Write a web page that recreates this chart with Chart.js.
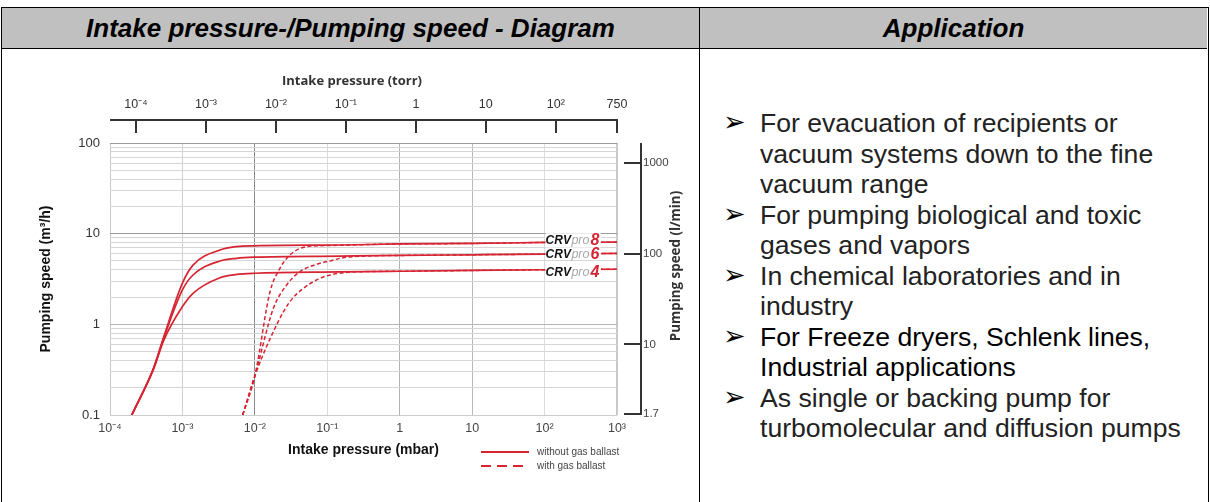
<!DOCTYPE html>
<html><head><meta charset="utf-8">
<script src="https://cdn.jsdelivr.net/npm/chart.js@4.4.1/dist/chart.umd.min.js"></script>
<style>
html,body{margin:0;padding:0;background:#fff;}
body{width:1210px;height:502px;position:relative;overflow:hidden;font-family:"Liberation Sans",Arial,sans-serif;}
.frame{position:absolute;left:1px;top:7px;width:1206px;height:600px;border:1px solid #000;}
.hdr{position:absolute;top:8px;height:40px;background:#c0c0c0;border-bottom:1px solid #000;font-weight:bold;font-style:italic;font-size:26px;line-height:40px;text-align:center;color:#000;}
.vdiv{position:absolute;left:699px;top:8px;width:1px;height:500px;background:#000;}
#chartBox{position:absolute;left:4px;top:52px;width:694px;height:446px;}
.app{position:absolute;left:760px;top:108px;font-size:26.6px;line-height:30.5px;color:#222;}
.it{position:relative;white-space:nowrap;}
.b{position:absolute;left:-37px;top:-1px;font-family:"DejaVu Sans";font-size:27px;line-height:30.5px;color:#000;}
</style>
</head>
<body>
<div class="frame"></div>
<div class="hdr" style="left:2px;width:697px;">Intake pressure-/Pumping speed - Diagram</div>
<div class="hdr" style="left:700px;width:507px;">Application</div>
<div class="vdiv"></div>
<div id="chartBox"><canvas id="c" width="694" height="446"></canvas></div>
<div class="app">
 <div class="it"><span class="b">➢</span>For evacuation of recipients or<br>vacuum systems down to the fine<br>vacuum range</div>
 <div class="it"><span class="b">➢</span>For pumping biological and toxic<br>gases and vapors</div>
 <div class="it"><span class="b">➢</span>In chemical laboratories and in<br>industry</div>
 <div class="it" style="color:#000"><span class="b">➢</span>For Freeze dryers, Schlenk lines,<br>Industrial applications</div>
 <div class="it"><span class="b">➢</span>As single or backing pump for<br>turbomolecular and diffusion pumps</div>
</div>
<script>
// ---- axis ticks / labels ----
const pressureTicks = [1e-4, 1e-3, 1e-2, 1e-1, 1, 10, 100, 1000];
const pressureLabels = ['10⁻⁴', '10⁻³', '10⁻²', '10⁻¹', '1', '10', '10²', '10³'];
const torrTicks = [1e-4, 1e-3, 1e-2, 1e-1, 1, 10, 100, 750];
const torrLabels = ['10⁻⁴', '10⁻³', '10⁻²', '10⁻¹', '1', '10', '10²', '750'];
const speedDecades = [0.1, 1, 10, 100];
const speedLabels = ['0.1', '1', '10', '100'];
const lminTicks = [1.7, 10, 100, 1000];
const lminLabels = ['1.7', '10', '100', '1000'];
const models = ['8', '6', '4'];

// ---- without gas ballast (solid) : pressure mbar / speed m3/h ----
const pSolid = [2.0e-4, 4.0e-4, 5.5e-4, 1e-3, 1.4e-3, 3.3e-3, 5.6e-3, 1e-2, 0.15, 1, 10, 100, 1000];
const sSolid8 = [0.1, 0.33, 0.72, 2.85, 4.5, 6.6, 7.2, 7.35, 7.5, 7.7, 7.8, 8.0, 8.05];
const sSolid6 = [0.1, 0.33, 0.70, 2.4, 3.5, 5.0, 5.35, 5.5, 5.65, 5.75, 5.85, 5.95, 6.05];
const sSolid4 = [0.1, 0.32, 0.66, 1.57, 2.2, 3.27, 3.55, 3.66, 3.78, 3.85, 3.93, 4.0, 4.05];

// ---- with gas ballast (dashed) ----
const pDash8 = [6.8e-3, 1e-2, 1.62e-2, 2.22e-2, 3.05e-2, 5.2e-2, 0.11, 0.4, 1, 10, 100, 1000];
const sDash8 = [0.1, 0.27, 2.29, 4.15, 5.82, 7.2, 7.4, 7.6, 7.7, 7.8, 8.0, 8.05];
const pDash6 = [6.8e-3, 1e-2, 1.8e-2, 2.75e-2, 4.2e-2, 7.9e-2, 0.11, 0.15, 0.3, 1, 10, 100, 1000];
const sDash6 = [0.1, 0.27, 1.5, 2.72, 3.81, 4.71, 5.0, 5.35, 5.65, 5.75, 5.85, 5.95, 6.05];
const pDash4 = [6.8e-3, 1e-2, 2.1e-2, 3.05e-2, 4.67e-2, 7.9e-2, 0.11, 0.2, 1, 10, 100, 1000];
const sDash4 = [0.1, 0.27, 1.07, 1.78, 2.49, 3.22, 3.5, 3.76, 3.85, 3.93, 4.0, 4.05];

const RED = 'rgb(214,36,50)';
const F = '"Liberation Sans", Arial, sans-serif';
const xGridColors = ['#c8c8c8', '#d0d0d0', '#8c8c8c', '#dadada', '#b2b2b2', '#b8b8b8', '#dcdcdc', '#c8c8c8'];
const yDecadeColors = ['#cccccc', '#b4b4b4', '#9a9a9a', '#9a9a9a'];

const zip = (p, s) => p.map((v, i) => ({x: v, y: s[i]}));
const solidSets = [sSolid8, sSolid6, sSolid4];
const datasets = [
  {data: zip(pSolid, sSolid8)}, {data: zip(pSolid, sSolid6)}, {data: zip(pSolid, sSolid4)},
  {data: zip(pDash8, sDash8), borderDash: [4, 2.5], borderWidth: 1.5},
  {data: zip(pDash6, sDash6), borderDash: [4, 2.5], borderWidth: 1.5},
  {data: zip(pDash4, sDash4), borderDash: [4, 2.5], borderWidth: 1.5}
].map(d => Object.assign({borderColor: RED, borderWidth: 1.7, pointRadius: 0, fill: false,
  cubicInterpolationMode: 'monotone', xAxisID: 'x', yAxisID: 'y'}, d));

// y ticks: decades plus minor 2..9
const yTickVals = [];
speedDecades.forEach((d, i) => {
  for (let m = 1; m <= 9; m++) { if (i === speedDecades.length - 1 && m > 1) break; yTickVals.push({v: d * m, major: m === 1, di: i}); }
});

const decor = {
  id: 'decor',
  afterDatasetsDraw(chart) {
    const {ctx, chartArea: a, scales} = chart;
    ctx.save();
    const nudge = [-3, 0, 2];
    models.forEach((m, i) => {
      const s = solidSets[i];
      const y = scales.y.getPixelForValue(s[s.length - 1]) + nudge[i];
      const x0 = scales.x.getPixelForValue(100) + 1;
      ctx.font = 'italic bold 12px ' + F; const w1 = ctx.measureText('CRV').width;
      ctx.font = 'italic 12.5px ' + F; const w2 = ctx.measureText('pro').width;
      ctx.font = 'italic bold 16px ' + F; const w3 = ctx.measureText(m).width;
      ctx.fillStyle = '#fff';
      ctx.fillRect(x0, y - 6, w1 + w2 + w3 + 3, 12);
      const base = y + 4.5;
      ctx.textBaseline = 'alphabetic'; ctx.textAlign = 'left';
      ctx.fillStyle = '#111'; ctx.font = 'italic bold 12px ' + F; ctx.fillText('CRV', x0, base);
      ctx.fillStyle = '#a8a8a8'; ctx.font = 'italic 12.5px ' + F; ctx.fillText('pro', x0 + w1 + 0.5, base);
      ctx.fillStyle = RED; ctx.font = 'italic bold 16px ' + F; ctx.fillText(m, x0 + w1 + w2 + 1.5, base + 1);
    });
    ctx.restore();
  },
  afterDraw(chart) {
    const {ctx, chartArea: a, scales} = chart;
    ctx.save();
    ctx.strokeStyle = '#333'; ctx.lineWidth = 2;
    // top torr axis title, line and ticks
    ctx.fillStyle = '#333'; ctx.font = 'bold 13px "Open Sans"';
    ctx.textAlign = 'center'; ctx.textBaseline = 'middle';
    ctx.fillText('Intake pressure (torr)', a.left + 242, a.top - 62);
    const yl = a.top - 23;
    ctx.beginPath(); ctx.moveTo(a.left, yl); ctx.lineTo(a.right + 1, yl); ctx.stroke();
    torrTicks.forEach(v => {
      const x = Math.round(scales.xTorr.getPixelForValue(v));
      ctx.beginPath(); ctx.moveTo(x, yl - 1); ctx.lineTo(x, a.top - 10); ctx.stroke();
    });
    // right l/min axis line and ticks
    const xl = a.right + 24;
    ctx.beginPath(); ctx.moveTo(xl, a.top); ctx.lineTo(xl, a.bottom); ctx.stroke();
    lminTicks.forEach(v => {
      const y = Math.round(scales.yLmin.getPixelForValue(v));
      ctx.beginPath(); ctx.moveTo(a.right + 7, y); ctx.lineTo(xl + 1, y); ctx.stroke();
    });
    // right title
    ctx.save();
    ctx.translate(a.right + 59, (a.top + a.bottom) / 2 - 13);
    ctx.rotate(-Math.PI / 2);
    ctx.fillStyle = '#333'; ctx.font = 'bold 13.4px "Open Sans"';
    ctx.textAlign = 'center'; ctx.textBaseline = 'middle';
    ctx.fillText('Pumping speed (l/min)', 0, 0);
    ctx.restore();
    // legend
    const lx = a.left + 371, ly1 = a.bottom + 37, ly2 = a.bottom + 51;
    ctx.strokeStyle = RED; ctx.lineWidth = 2;
    ctx.beginPath(); ctx.moveTo(lx, ly1); ctx.lineTo(lx + 48, ly1); ctx.stroke();
    ctx.setLineDash([10, 6]);
    ctx.beginPath(); ctx.moveTo(lx, ly2); ctx.lineTo(lx + 48, ly2); ctx.stroke();
    ctx.setLineDash([]);
    ctx.fillStyle = '#444'; ctx.font = '10px ' + F; ctx.textAlign = 'left'; ctx.textBaseline = 'middle';
    ctx.fillText('without gas ballast', lx + 56, ly1);
    ctx.fillText('with gas ballast', lx + 56, ly2);
    ctx.restore();
  }
};

new Chart(document.getElementById('c'), {
  type: 'line',
  data: {datasets},
  plugins: [decor],
  options: {
    responsive: false, animation: false, events: [],
    layout: {padding: 0},
    plugins: {legend: {display: false}, tooltip: {enabled: false}},
    scales: {
      x: {
        type: 'logarithmic', position: 'bottom', min: 1e-4, max: 1e3,
        afterBuildTicks: s => { s.ticks = pressureTicks.map(v => ({value: v})); },
        afterFit: s => { s.height = 83; },
        ticks: {autoSkip: false, maxRotation: 0, padding: 6, color: '#444', font: {family: F, size: 12.5},
          callback: (v, i) => pressureLabels[i]},
        grid: {drawTicks: false, color: c => xGridColors[c.index], lineWidth: c => (c.index === 7 ? 2 : 1)},
        border: {display: false},
        title: {display: true, text: 'Intake pressure (mbar)', color: '#111',
          font: {family: F, size: 14, weight: 'bold'}, padding: {top: 0, bottom: 39}}
      },
      xTorr: {
        type: 'logarithmic', position: 'top', min: 4.25e-5, max: 750,
        afterBuildTicks: s => { s.ticks = torrTicks.map(v => ({value: v})); },
        afterFit: s => { s.height = 91; },
        ticks: {autoSkip: false, maxRotation: 0, padding: 31, color: '#333', font: {family: F, size: 12.5},
          callback: (v, i) => torrLabels[i]},
        grid: {display: false, drawTicks: false},
        border: {display: false},
        title: {display: false}
      },
      y: {
        type: 'logarithmic', position: 'left', min: 0.1, max: 100,
        afterBuildTicks: s => { s.ticks = yTickVals.map(t => ({value: t.v})); },
        afterFit: s => { s.width = 106; },
        ticks: {autoSkip: false, padding: 10, color: '#333', font: {family: F, size: 13},
          callback: (v, i) => (yTickVals[i].major ? speedLabels[yTickVals[i].di] : '')},
        grid: {drawTicks: false, color: c => (yTickVals[c.index] && yTickVals[c.index].major ? yDecadeColors[yTickVals[c.index].di] : '#d6d6d6')},
        border: {display: false},
        title: {display: true, text: 'Pumping speed (m³/h)', color: '#111',
          font: {family: F, size: 14, weight: 'bold'}, padding: {top: 34, bottom: 0}}
      },
      yLmin: {
        type: 'logarithmic', position: 'right', min: 0.1 * 1000 / 60, max: 100 * 1000 / 60,
        afterBuildTicks: s => { s.ticks = lminTicks.map(v => ({value: v})); },
        afterFit: s => { s.width = 81; },
        ticks: {autoSkip: false, padding: 26, color: '#444', font: {family: F, size: 11.5},
          callback: (v, i) => lminLabels[i]},
        grid: {display: false, drawTicks: false},
        border: {display: false}
      }
    }
  }
});
</script>
</body></html>
